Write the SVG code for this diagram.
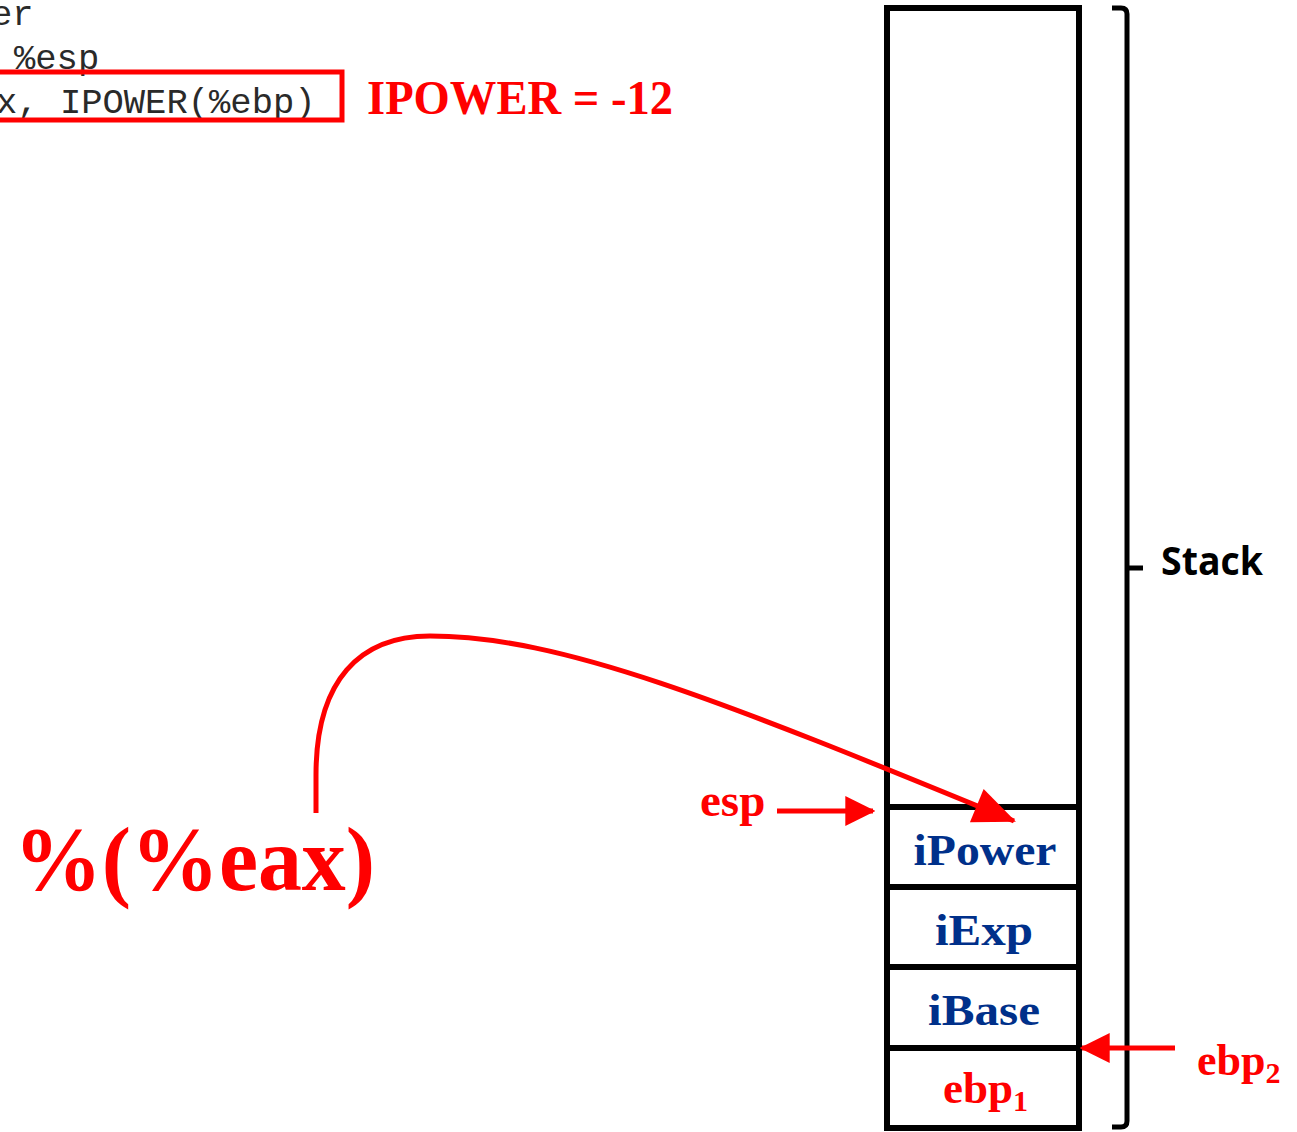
<svg xmlns="http://www.w3.org/2000/svg" width="1297" height="1132" viewBox="0 0 1297 1132">
<style>
.code{font-family:"Liberation Mono","Courier New",monospace;font-size:35.5px;fill:#2a2a2a}
.red{fill:#ff0000}
.serif{font-family:"Liberation Serif","Times New Roman",serif}
.lbl{font-family:"Liberation Serif","Times New Roman",serif;font-weight:bold;fill:#ff0000}
.cell{font-family:"Liberation Serif","Times New Roman",serif;font-weight:bold;font-size:44px;fill:#00308a;text-anchor:middle}
.ln{stroke:#000;stroke-width:6;fill:none}
.rl{stroke:#ff0000;stroke-width:5;fill:none}
</style>
<defs>
<marker id="ah" markerUnits="userSpaceOnUse" markerWidth="30" markerHeight="30" viewBox="0 0 26 26" refX="24" refY="13" orient="auto">
<path d="M0,0 L26,13 L0,26 Z" fill="#ff0000"/>
</marker>
<marker id="ahBig" markerUnits="userSpaceOnUse" markerWidth="44" markerHeight="36" viewBox="0 0 40 34" refX="38" refY="17" orient="auto">
<path d="M0,0 L40,17 L0,34 Z" fill="#ff0000"/>
</marker>
</defs>
<rect width="1297" height="1132" fill="#fff"/>
<g id="code">
<text class="code" x="-9" y="25">er</text>
<text class="code" x="14" y="69">%esp</text>
<text class="code" x="-4" y="113">x, IPOWER(%ebp)</text>
<rect x="-10" y="72" width="352" height="48" fill="none" stroke="#ff0000" stroke-width="5"/>
<text class="serif red" x="367" y="114" font-weight="bold" font-size="48" textLength="306" lengthAdjust="spacingAndGlyphs">IPOWER = -12</text>
</g>
<g id="stack">
<rect x="887" y="8" width="192" height="1120" class="ln"/>
<line x1="887" y1="807" x2="1079" y2="807" class="ln" stroke-width="7"/>
<line x1="887" y1="887" x2="1079" y2="887" class="ln" stroke-width="7"/>
<line x1="887" y1="967" x2="1079" y2="967" class="ln" stroke-width="7"/>
<line x1="887" y1="1048" x2="1079" y2="1048" class="ln" stroke-width="7"/>
</g>
<g id="cell-ipower"><text class="cell" x="985" y="865" textLength="143" lengthAdjust="spacingAndGlyphs">iPower</text></g>
<g id="cell-iexp"><text class="cell" x="984" y="945" textLength="98" lengthAdjust="spacingAndGlyphs">iExp</text></g>
<g id="cell-ibase"><text class="cell" x="984" y="1025" textLength="112" lengthAdjust="spacingAndGlyphs">iBase</text></g>
<g id="cell-ebp1"><text class="lbl" x="943" y="1103" font-size="45">ebp<tspan font-size="30" dy="8">1</tspan></text></g>
<g id="brace">
<path d="M1112,8 L1121,8 Q1127,8 1127,14 L1127,1121 Q1127,1127 1121,1127 L1112,1127 M1127,568 L1143,568" stroke="#000" stroke-width="5" fill="none"/>
<text x="1161" y="575" font-family="'Open Sans','Liberation Sans',sans-serif" font-weight="bold" font-size="39" textLength="102" lengthAdjust="spacingAndGlyphs">Stack</text>
</g>
<g id="label-esp"><text class="lbl" x="700" y="816" font-size="47">esp</text></g>
<g id="label-ebp2"><text class="lbl" x="1197" y="1075" font-size="44">ebp<tspan font-size="30" dy="8">2</tspan></text></g>
<g id="label-eax"><text class="serif red" x="14" y="890" font-weight="bold" font-size="92" textLength="361" lengthAdjust="spacingAndGlyphs">%(%eax)</text></g>
<g id="connectors">
<line x1="777" y1="811" x2="873" y2="811" class="rl" marker-end="url(#ah)"/>
<line x1="1175" y1="1048" x2="1082" y2="1048" class="rl" marker-end="url(#ah)"/>
<path d="M316,813 L316,775 C316,680 360,636 430,636 C560,636 720,700 1014,821" class="rl" marker-end="url(#ahBig)"/>
</g>
</svg>
